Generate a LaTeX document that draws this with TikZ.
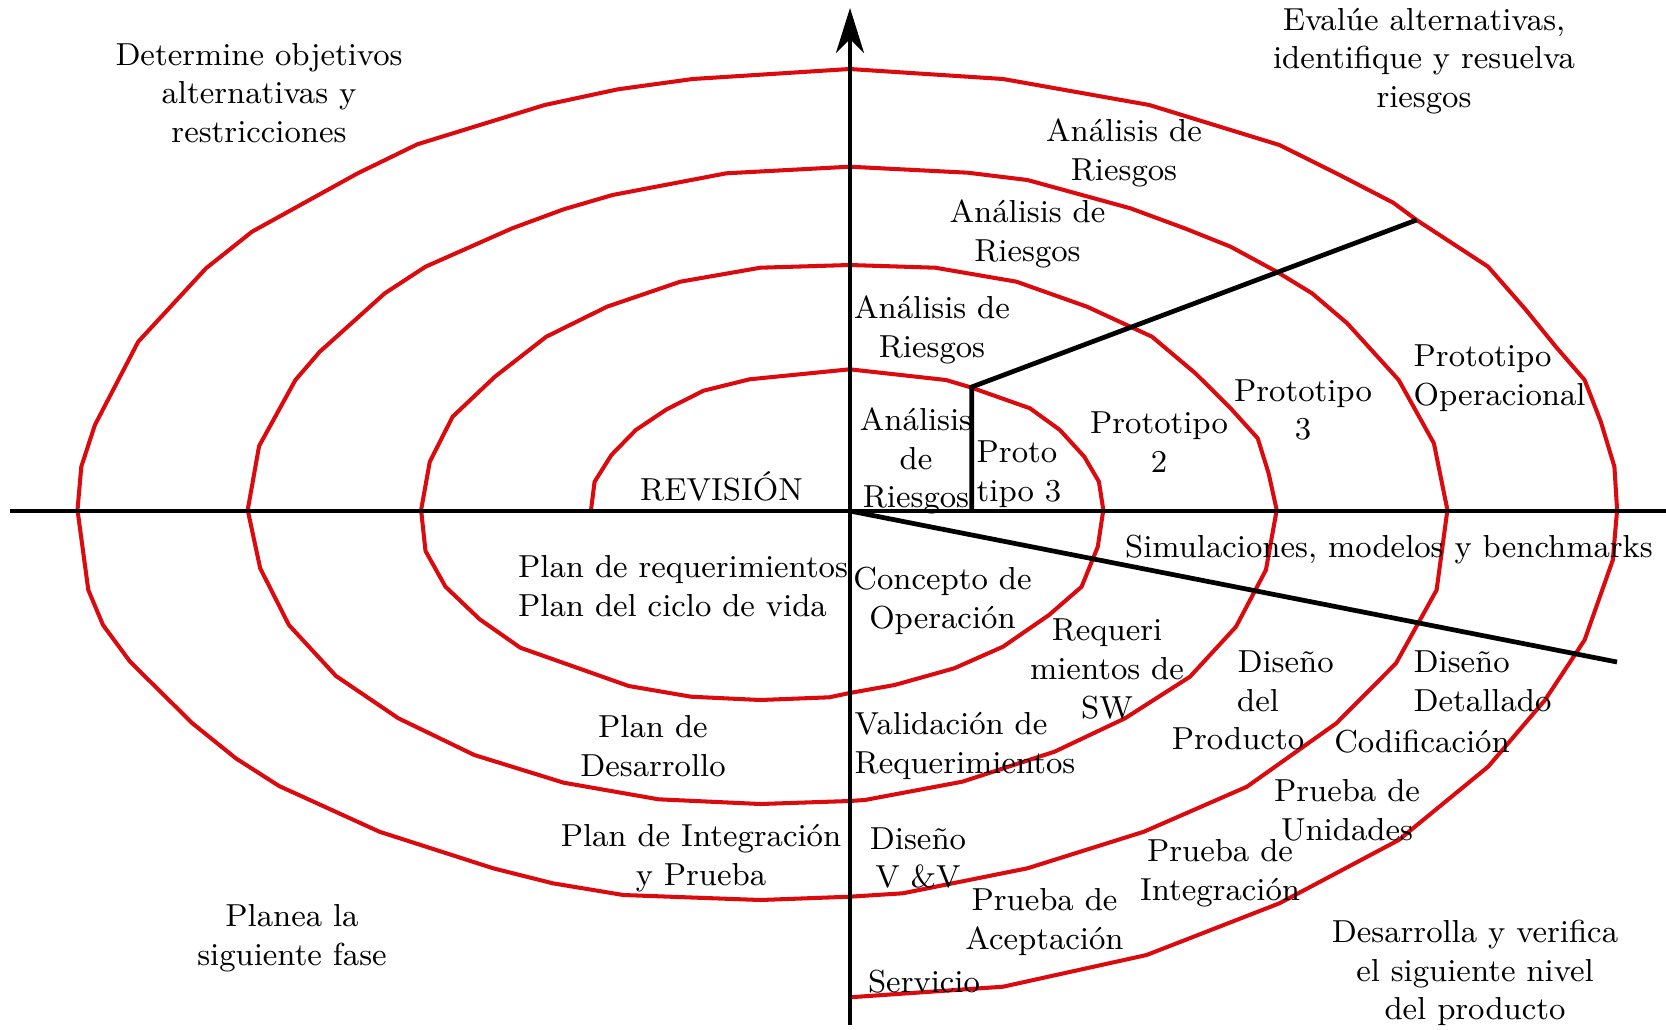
\documentclass[tikz,border=0pt]{standalone}
\usetikzlibrary{arrows.meta}
\begin{document}
\begin{tikzpicture}[x=0.01cm,y=-0.01cm,
  axis/.style={line width=1.35pt,black},
  blk/.style={line width=1.35pt,black},
  spiral/.style={line width=1.15pt,color=spiralred,line join=round},
  lbl/.style={inner sep=0pt,font=\fontsize{9.05}{11}\selectfont,align=center},
  lbll/.style={lbl,align=left,anchor=west}]
\definecolor{spiralred}{RGB}{218,10,14}
\useasboundingbox (0,0) rectangle (1666,1030);
% named points
\coordinate (O) at (850,511);
\coordinate (L) at (10,511);
\coordinate (R) at (1666,511);
\coordinate (B) at (850,1025);
\coordinate (T) at (850,8);
\coordinate (K1) at (971.7,511);
\coordinate (K2) at (971.7,387);
\coordinate (K3) at (1416.6,220);
\coordinate (S) at (1617,662);
% spiral
\draw[spiral] (591,510) -- (594.6,481.7) -- (611.4,455) -- (635.8,430) -- (666.7,409.3) -- (703.5,390.7) -- (749.6,379.3) -- (849.6,369.3) -- (946,380) -- (970.5,387.3) -- (1030,408.3) -- (1059.9,430) -- (1084.3,456.7) -- (1098.9,481.7) -- (1103.3,510) -- (1097.8,546.7) -- (1081.6,586.7) -- (1049,615) -- (1003,646.7) -- (954.2,668.3) -- (894.6,685) -- (849.6,693) -- (829.3,697.3) -- (760.4,700) -- (691,696.7) -- (628.7,686) -- (520.3,647.7) -- (479.7,619.3) -- (445.5,586.7) -- (425.5,551) -- (421.1,510)
 -- (429.8,461.7) -- (452.6,416.7) -- (494.9,376.7) -- (546.3,336.7) -- (607,306.7) -- (680.2,281.7) -- (760.4,267.7) -- (849.6,265) -- (935.2,267.7) -- (1016.5,281.7) -- (1087,306.7) -- (1152,336.7) -- (1195.4,373.3) -- (1230.6,408.3) -- (1257.7,438.3) -- (1268.6,473.3) -- (1276.7,510) -- (1265.9,570) -- (1236,626.7) -- (1190,676.7) -- (1125,718.3) -- (1054.5,751.7) -- (962.3,781.7) -- (864.8,800) -- (849.6,801) -- (760.4,804) -- (658.5,799.3) -- (563.7,782.7) -- (474.3,755) -- (398.4,718.3) -- (336,676) -- (288.9,625) -- (260.2,568.3) -- (247.7,510)
 -- (259.1,446) -- (295.4,380) -- (319.8,351.7) -- (384.8,293.3) -- (425.5,266.7) -- (512.2,228.3) -- (563.7,209.3) -- (612.5,195) -- (726.3,173.3) -- (849.6,166.7) -- (967.8,172.7) -- (1027.4,180) -- (1130.4,208.3) -- (1184.6,228.3) -- (1230.6,246.7) -- (1276.7,271.7) -- (1312,293.3) -- (1347.2,323.3) -- (1398.7,380) -- (1433.9,443.3) -- (1447.4,510) -- (1436.6,590) -- (1396,663.3) -- (1336.3,723.3) -- (1246.9,786.7) -- (1143.9,831.7) -- (1027.4,868.3) -- (902.7,893.3) -- (849.6,896.7) -- (760.4,900) -- (623.3,895) -- (552.8,883.3) -- (493.2,868.3) -- (379.4,831.7) -- (279.1,786) -- (235.8,758.3) -- (192.4,723.3) -- (130.1,661.7) -- (103,625) -- (88.3,590) -- (77.5,510)
 -- (81.3,466.7) -- (94.9,425) -- (138.2,341.7) -- (206,268.3) -- (252,231.7) -- (357.7,173.3) -- (417.3,144.3) -- (544.7,105) -- (617.9,89.3) -- (692.7,79) -- (849.6,69) -- (1003,79) -- (1149.3,105) -- (1279.4,145) -- (1336.3,173.3) -- (1393.2,202.7) -- (1416.6,220) -- (1488.1,266.7) -- (1526,310) -- (1555.8,346.7) -- (1584.6,380) -- (1600.8,421.7) -- (1614.4,466.7) -- (1617.1,510) -- (1612.8,560) -- (1584.6,640) -- (1545,700) -- (1488.1,766.7) -- (1398.7,840) -- (1279.4,903.3) -- (1146.6,955) -- (1003,986.7) -- (849.6,997.3);
% axes
\draw[axis] (L) -- (R);
\draw[axis,-{Stealth[length=0.45cm,width=0.28cm,inset=0.14cm]}] (B) -- (T);
% black lines
\draw[blk,line join=miter] (K1) -- (K2) -- (K3);
\draw[blk] (O) -- (S);
% labels
\node[lbl] (t1) at (259,93) {Determine objetivos\\alternativas y\\restricciones};
\node[lbl] (t2) at (1424,61) {Eval\'ue alternativas,\\identifique y resuelva\\riesgos};
\node[lbl] (t3) at (1124,153) {An\'alisis de\\Riesgos};
\node[lbl] (t4) at (1027.5,234) {An\'alisis de\\Riesgos};
\node[lbl] (t5) at (932,330) {An\'alisis de\\Riesgos};
\node[lbl] (t6) at (916,461) {An\'alisis\\de\\Riesgos};
\node[lbll] (t7) at (976,474) {Proto\\tipo 3};
\node[lbl] (t8) at (1159,442) {Prototipo\\2};
\node[lbl] (t9) at (1303,410) {Prototipo\\3};
\node[lbll] (t10) at (1413,378) {Prototipo\\Operacional};
\node[lbl] (t11) at (721.5,486) {REVISI\'ON};
\node[lbl] (t12) at (1389,550) {Simulaciones, modelos y benchmarks};
\node[lbll] (t13) at (517.5,586) {Plan de requerimientos\\Plan del ciclo de vida};
\node[lbl] (t14) at (942.5,601) {Concepto de\\Operaci\'on};
\node[lbl] (t15) at (1107,669) {Requeri\\mientos de\\SW};
\node[lbl] (t16a) at (1285.6,662) {Dise\~no};
\node[lbl] (t16b) at (1258,701) {del};
\node[lbl] (t16c) at (1238,738.4) {Producto};
\node[lbll] (t17) at (1413,681.5) {Dise\~no\\Detallado};
\node[lbl] (t18) at (1422,741.6) {Codificaci\'on};
\node[lbl] (t19) at (653,746) {Plan de\\Desarrollo};
\node[lbll] (t20) at (854,746) {Validaci\'on de\\Requerimientos};
\node[lbl] (t21) at (1347,810) {Prueba de\\Unidades};
\node[lbl] (t22) at (701,858) {Plan de Integraci\'on\\y Prueba};
\node[lbl] (t23) at (918,858) {Dise\~no\\V \&V};
\node[lbl] (t24) at (1220,873) {Prueba de\\Integraci\'on};
\node[lbl] (t25) at (1044.5,922) {Prueba de\\Aceptaci\'on};
\node[lbl] (t26) at (292,938) {Planea la\\siguiente fase};
\node[lbl] (t27) at (924,982) {Servicio};
\node[lbl] (t28) at (1475,973) {Desarrolla y verifica\\el siguiente nivel\\del producto};
\end{tikzpicture}
\end{document}
